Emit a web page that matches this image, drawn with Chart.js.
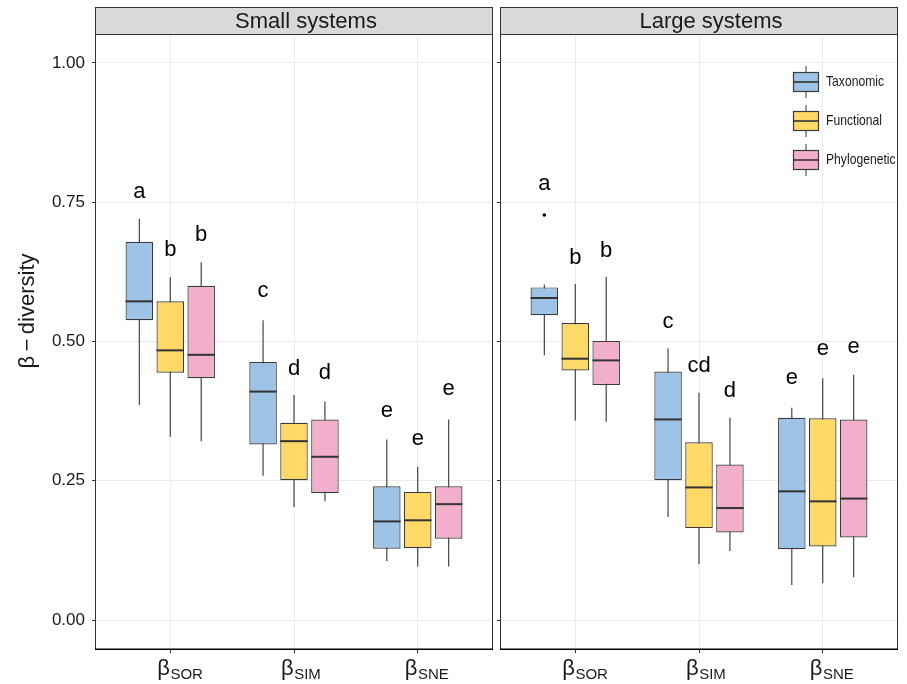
<!DOCTYPE html>
<html><head><meta charset="utf-8">
<script src="https://cdn.jsdelivr.net/npm/chart.js@4.4.0/dist/chart.umd.min.js"></script>
<style>
html,body{margin:0;padding:0;background:#fff;}
#wrap{position:relative;width:907px;height:684px;overflow:hidden;background:#fff;}
#c1{position:absolute;left:0;top:0;}
#c2{position:absolute;left:497px;top:0;}
</style></head><body>
<div id="wrap">
<canvas id="c1" width="495" height="684"></canvas>
<canvas id="c2" width="410" height="684"></canvas>
</div>
<script>
// ---------- data ----------
const metricLabels = ['SOR', 'SIM', 'SNE'];
const groupNames = ['Taxonomic', 'Functional', 'Phylogenetic'];
const panelTitles = ['Small systems', 'Large systems'];
const yTicks = [0, 0.25, 0.5, 0.75, 1.0];

// each entry per metric: [whisker low, Q1, median, Q3, whisker high]
const smallTaxonomic    = [[0.386, 0.538, 0.572, 0.679, 0.720], [0.259, 0.315, 0.410, 0.463, 0.538], [0.106, 0.128, 0.177, 0.240, 0.324]];
const smallFunctional   = [[0.329, 0.444, 0.484, 0.572, 0.615], [0.203, 0.251, 0.321, 0.354, 0.404], [0.096, 0.129, 0.179, 0.230, 0.275]];
const smallPhylogenetic = [[0.321, 0.434, 0.476, 0.600, 0.642], [0.213, 0.228, 0.293, 0.360, 0.392], [0.096, 0.146, 0.208, 0.240, 0.360]];
const largeTaxonomic    = [[0.475, 0.547, 0.578, 0.597, 0.602], [0.185, 0.251, 0.360, 0.446, 0.488], [0.063, 0.127, 0.231, 0.363, 0.381]];
const largeFunctional   = [[0.358, 0.448, 0.469, 0.533, 0.603], [0.100, 0.165, 0.238, 0.319, 0.408], [0.066, 0.132, 0.213, 0.362, 0.434]];
const largePhylogenetic = [[0.356, 0.422, 0.466, 0.501, 0.616], [0.124, 0.157, 0.201, 0.279, 0.363], [0.077, 0.148, 0.218, 0.360, 0.440]];

// outliers: [group index, metric index, value]
const smallOutliers = [];
const largeOutliers = [[0, 0, 0.727]];

// significance letters (per group, per metric) and their baseline values
const smallLetters = [['a', 'c', 'e'], ['b', 'd', 'e'], ['b', 'd', 'e']];
const smallLetterY = [[0.757, 0.580, 0.364], [0.653, 0.440, 0.314], [0.680, 0.432, 0.404]];
const largeLetters = [['a', 'c', 'e'], ['b', 'cd', 'e'], ['b', 'd', 'e']];
const largeLetterY = [[0.771, 0.525, 0.423], [0.639, 0.446, 0.475], [0.652, 0.400, 0.480]];

// ---------- styling ----------
const groupColors = ['#9DC3E6', '#FFD966', '#F2AFCB'];
const DODGE = 0.25;
const BOX_W = 27.5;
const FONT = '"Liberation Sans", Arial, Helvetica, sans-serif';
const INK = '#1a1a1a';

function xPos(gi, mi) { return mi + 1 + (gi - 1) * DODGE; }

function buildDatasets(groupsData, outliers) {
  const ds = [];
  groupsData.forEach((g, gi) => {
    ds.push({
      type: 'bar', label: groupNames[gi] + ' whiskers',
      data: g.map((s, mi) => ({x: xPos(gi, mi), y: [s[0], s[4]]})),
      backgroundColor: '#333333', borderWidth: 0, barThickness: 1.1,
      grouped: false, inflateAmount: 0, order: 3
    });
    ds.push({
      type: 'bar', label: groupNames[gi],
      data: g.map((s, mi) => ({x: xPos(gi, mi), y: [s[1], s[3]]})),
      backgroundColor: groupColors[gi], borderColor: '#3a3a3a', borderWidth: 1.2,
      borderSkipped: false, barThickness: BOX_W, grouped: false, inflateAmount: 0, order: 2
    });
    ds.push({
      type: 'scatter', label: groupNames[gi] + ' median',
      data: g.map((s, mi) => ({x: xPos(gi, mi), y: s[2]})),
      pointStyle: 'line', pointRadius: BOX_W / 2, pointHoverRadius: BOX_W / 2,
      borderColor: '#333333', pointBorderColor: '#333333', pointBorderWidth: 2, pointHoverBorderWidth: 2,
      showLine: false, order: 1
    });
  });
  if (outliers.length) {
    ds.push({
      type: 'scatter', label: 'outliers',
      data: outliers.map(o => ({x: xPos(o[0], o[1]), y: o[2]})),
      pointStyle: 'circle', pointRadius: 1.8, pointHoverRadius: 1.8,
      backgroundColor: '#000', borderColor: '#000', pointBorderWidth: 0, order: 0
    });
  }
  return ds;
}

function panelPlugin(cfg) {
  return {
    id: 'panelDeco' + cfg.idx,
    afterDatasetsDraw(chart) {
      const {ctx, scales: {x, y}} = chart;
      ctx.save();
      ctx.fillStyle = '#000';
      ctx.font = '22px ' + FONT;
      ctx.textAlign = 'center';
      ctx.textBaseline = 'alphabetic';
      cfg.letters.forEach((row, gi) => row.forEach((t, mi) => {
        ctx.fillText(t, x.getPixelForValue(xPos(gi, mi)), y.getPixelForValue(cfg.letterY[gi][mi]));
      }));
      ctx.restore();
    },
    afterDraw(chart) {
      const {ctx, chartArea: ca, scales: {x}} = chart;
      ctx.save();
      // panel border
      ctx.strokeStyle = '#333';
      ctx.lineWidth = 1;
      ctx.strokeRect(ca.left - 0.5, ca.top - 0.5, ca.right - ca.left + 1, ca.bottom - ca.top + 1);
      // bottom axis line
      ctx.strokeStyle = '#000';
      ctx.lineWidth = 1.4;
      ctx.beginPath();
      ctx.moveTo(ca.left - 1, ca.bottom + 0.3);
      ctx.lineTo(ca.right + 1, ca.bottom + 0.3);
      ctx.stroke();
      // strip
      ctx.fillStyle = '#d9d9d9';
      ctx.fillRect(ca.left - 0.5, 7.5, ca.right - ca.left + 1, ca.top - 7.5);
      ctx.strokeStyle = '#333';
      ctx.lineWidth = 1;
      ctx.strokeRect(ca.left - 0.5, 7.5, ca.right - ca.left + 1, ca.top - 8);
      ctx.fillStyle = INK;
      ctx.font = '22px ' + FONT;
      ctx.textAlign = 'center';
      ctx.textBaseline = 'middle';
      ctx.fillText(cfg.title, (ca.left + ca.right) / 2 + 12, 22);
      // x category labels: beta with subscript
      ctx.textAlign = 'left';
      ctx.textBaseline = 'alphabetic';
      metricLabels.forEach((m, mi) => {
        const cx = x.getPixelForValue(mi + 1);
        ctx.font = '22px ' + FONT;
        ctx.fillText('β', cx - 13, 675);
        const w = ctx.measureText('β').width;
        ctx.font = '15px ' + FONT;
        ctx.fillText(m, cx - 13 + w + 0.5, 678.5);
      });
      if (cfg.yTitle) {
        ctx.save();
        ctx.translate(28, 311);
        ctx.rotate(-Math.PI / 2);
        ctx.font = '22px ' + FONT;
        ctx.textAlign = 'center';
        ctx.textBaseline = 'middle';
        ctx.fillText('β\u2009\u2212\u2009diversity', 0, 0);
        ctx.restore();
      }
      if (cfg.legend) {
        // legend keys (canvas offset: this chart starts at page x=497)
        const kx = 793 - 497, kw = 26;
        groupNames.forEach((g, gi) => {
          const cy = 82 + 39 * gi;
          ctx.strokeStyle = '#333';
          ctx.lineWidth = 1;
          ctx.beginPath();
          ctx.moveTo(kx + kw / 2, cy - 16);
          ctx.lineTo(kx + kw / 2, cy + 16);
          ctx.stroke();
          ctx.fillStyle = groupColors[gi];
          ctx.fillRect(kx, cy - 10, kw, 20);
          ctx.strokeStyle = '#3a3a3a';
          ctx.lineWidth = 1.2;
          ctx.strokeRect(kx + 0.5, cy - 9.5, kw - 1, 19);
          ctx.strokeStyle = '#333';
          ctx.lineWidth = 1.6;
          ctx.beginPath();
          ctx.moveTo(kx, cy);
          ctx.lineTo(kx + kw, cy);
          ctx.stroke();
          ctx.fillStyle = INK;
          ctx.font = '15px ' + FONT;
          ctx.textAlign = 'left';
          ctx.textBaseline = 'middle';
          const tw = ctx.measureText(g).width;
          ctx.fillText(g, 826 - 497, cy, tw * 0.81);
        });
      }
      ctx.restore();
    }
  };
}

function makeChart(canvasId, cfg) {
  return new Chart(document.getElementById(canvasId), {
    type: 'bar',
    data: {datasets: buildDatasets(cfg.data, cfg.outliers)},
    options: {
      responsive: false,
      animation: false,
      events: [],
      devicePixelRatio: 1,
      layout: {autoPadding: false, padding: {left: 0, right: cfg.padRight, top: 35, bottom: 0}},
      plugins: {legend: {display: false}, tooltip: {enabled: false}},
      scales: {
        x: {
          type: 'linear', min: 0.4, max: 3.6, offset: false,
          afterBuildTicks(scale) { scale.ticks = metricLabels.map((m, i) => ({value: i + 1})); },
          afterFit(scale) { scale.height = 35; },
          grid: {color: '#ebebeb', lineWidth: 1, offset: false, drawTicks: true, tickLength: 4, tickColor: '#333'},
          border: {display: false},
          ticks: {display: false}
        },
        y: {
          type: 'linear', min: -0.052, max: 1.05, stacked: false,
          afterBuildTicks(scale) { scale.ticks = yTicks.map(v => ({value: v})); },
          afterFit(scale) { scale.width = cfg.yWidth; },
          grid: {color: '#ebebeb', lineWidth: 1, drawTicks: true, tickLength: 4, tickColor: '#333'},
          border: {display: false},
          ticks: {
            display: cfg.showYTicks, padding: 7, color: INK,
            font: {size: 17, family: FONT},
            callback: v => Number(v).toFixed(2)
          }
        }
      }
    },
    plugins: [panelPlugin(cfg)]
  });
}

makeChart('c1', {
  idx: 1, title: panelTitles[0],
  data: [smallTaxonomic, smallFunctional, smallPhylogenetic],
  outliers: smallOutliers, letters: smallLetters, letterY: smallLetterY,
  yWidth: 96, padRight: 3, showYTicks: true, yTitle: true, legend: false
});
makeChart('c2', {
  idx: 2, title: panelTitles[1],
  data: [largeTaxonomic, largeFunctional, largePhylogenetic],
  outliers: largeOutliers, letters: largeLetters, letterY: largeLetterY,
  yWidth: 4, padRight: 10, showYTicks: false, yTitle: false, legend: true
});
</script>
</body></html>
